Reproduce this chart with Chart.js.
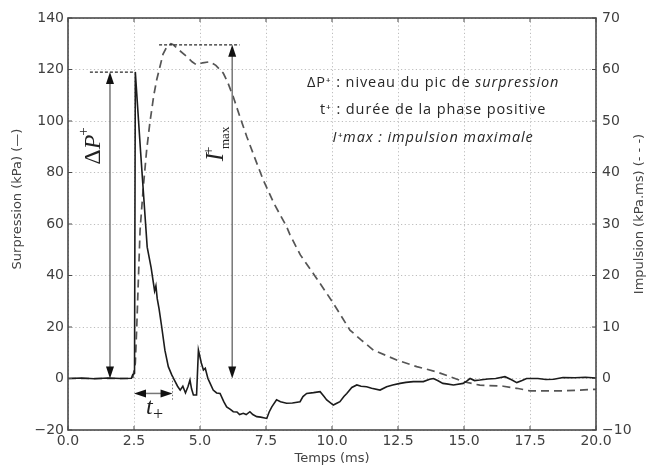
<!DOCTYPE html>
<html><head><meta charset="utf-8">
<script src="https://cdn.jsdelivr.net/npm/chart.js@4.4.0/dist/chart.umd.min.js"></script>
<style>html,body{margin:0;padding:0;background:#fff}#wrap{width:658px;height:466px;position:relative}</style>
</head><body><div id="wrap"><canvas id="c" width="658" height="466"></canvas></div>
<script>
// ---- data (time in ms, pressure in kPa, impulse in kPa.ms) ----
const timeP = [0,0.5,1,1.5,2,2.4,2.45,2.52,2.55,2.75,3.0,3.15,3.28,3.33,3.38,3.45,3.55,3.67,3.8,3.93,4.05,4.15,4.25,4.35,4.45,4.55,4.62,4.68,4.75,4.87,4.94,5.05,5.13,5.2,5.3,5.38,5.5,5.63,5.76,5.9,6.01,6.15,6.26,6.4,6.5,6.64,6.75,6.89,7.0,7.15,7.3,7.53,7.62,7.72,7.9,8.05,8.28,8.5,8.79,8.9,9.04,9.3,9.55,9.7,9.8,10.05,10.2,10.3,10.45,10.56,10.75,10.94,11.1,11.31,11.5,11.82,12.07,12.3,12.58,12.8,13.08,13.46,13.7,13.84,14.0,14.2,14.34,14.6,14.97,15.1,15.23,15.4,15.6,15.9,16.2,16.55,16.8,17.0,17.2,17.37,17.8,18.1,18.4,18.75,19.2,19.6,20];
const pressure = [0,0.2,-0.1,0.2,0,0.1,1.5,2,119,88,51,43,34,36,31,27,20,11,4.6,1.4,-1,-3,-4.5,-3,-5.6,-3,-0.6,-4,-6.4,-6.4,11,6,3.3,4,0,-1.8,-4.5,-5.6,-5.8,-9,-11,-12,-12.9,-13,-14,-13.5,-14,-12.9,-14,-14.8,-15,-15.5,-13,-11,-8.3,-9,-9.6,-9.5,-9,-7,-5.8,-5.5,-5.1,-7,-8.3,-10.3,-9.5,-9,-7,-5.8,-3.5,-2.5,-3,-3.2,-3.8,-4.5,-3.2,-2.5,-1.9,-1.5,-1.2,-1.2,-0.3,0,-0.8,-1.9,-2.1,-2.5,-1.9,-1,0,-0.8,-0.6,-0.2,0,0.7,-0.5,-1.6,-0.8,0,0,-0.4,-0.3,0.4,0.3,0.5,0.2];
const timeI = [0,2.45,2.55,2.6,2.73,2.85,2.98,3.1,3.25,3.36,3.48,3.6,3.74,3.9,3.99,4.2,4.5,4.7,4.87,5.1,5.38,5.6,5.88,6.05,6.26,6.5,6.77,7.1,7.4,7.8,8.28,8.41,8.8,9.29,9.7,10.05,10.68,11.1,11.57,12.45,13.21,13.96,14.47,14.97,15.6,16.49,17,17.5,18.75,20];
const impulse = [0,0,3,9.4,28.8,37,44.4,49.6,55,58,60.5,63,64.4,65,64.8,63.8,62.5,61.5,60.9,61.3,61.5,60.8,59.3,57.5,54.7,51,47,42.5,38.5,34,29.5,27.9,24,20.4,17.3,14.6,9.4,7.5,5.5,3.6,2.3,1.3,0.35,-0.6,-1.3,-1.5,-1.9,-2.4,-2.4,-2.1];
const xTicks = [0,2.5,5,7.5,10,12.5,15,17.5,20];
const yLeftTicks = [-20,0,20,40,60,80,100,120,140];
const yRightTicks = [-10,0,10,20,30,40,50,60,70];
const xTitle = 'Temps (ms)';
const yLeftTitle = 'Surpression (kPa) (\u2014)';
const yRightTitle = 'Impulsion (kPa.ms) (- - -)';
// annotation values (data units)
const dpPeak = 119;            // kPa
const dpArrowX = 1.59;         // ms
const dpLevelSpan = [0.83, 2.55];
const imaxPeak = 64.8;         // kPa.ms
const imaxArrowX = 6.22;       // ms
const imaxLevelSpan = [3.45, 6.5];
const tPlusSpan = [2.5, 3.96]; // ms
const tPlusLevel = -5.8;       // kPa
const legendLines = [
  [{t:'\u0394P\u207A : niveau du pic de ',i:false},{t:'surpression',i:true}],
  [{t:'t\u207A : dur\u00e9e de la phase positive',i:false}],
  [{t:'I\u207Amax : impulsion maximale',i:true}]
];
const legendPos = [[13.83,114.8],[13.83,104.3],[13.83,93.4]]; // ms, kPa

const fmtMinus = v => String(v).replace('-', '\u2212');
const legendFont = '14.5px "Open Sans", sans-serif';
const legendSpacing = '0.9px';

function drawPieces(ctx, x, y, pieces, rot){
  ctx.save();
  ctx.translate(x, y);
  if (rot) ctx.rotate(rot);
  let cx = pieces.startX || 0;
  for (const p of pieces.list){
    ctx.font = p.f;
    const w = ctx.measureText(p.t).width;
    ctx.fillText(p.t, cx + (p.dx||0), p.dy||0);
    cx += w + (p.dx||0);
  }
  ctx.restore();
}
function piecesWidth(ctx, list){
  let w=0; for(const p of list){ctx.font=p.f; w+=ctx.measureText(p.t).width+(p.dx||0);} return w;
}

const annot = {
  id:'annot',
  afterDatasetsDraw(chart){
    const {ctx, chartArea:a, scales:{x, y, y1}} = chart;
    const X=v=>x.getPixelForValue(v), Y=v=>y.getPixelForValue(v), Y1=v=>y1.getPixelForValue(v);
    const line=(x0,y0,x1,y1_)=>{ctx.beginPath();ctx.moveTo(x0,y0);ctx.lineTo(x1,y1_);ctx.stroke();};
    const head=(tx,ty,dx,dy)=>{
      const L=12, W=4;
      const bx=tx-dx*L, by=ty-dy*L;
      ctx.beginPath(); ctx.moveTo(tx,ty); ctx.lineTo(bx-dy*W, by+dx*W); ctx.lineTo(bx+dy*W, by-dx*W); ctx.closePath(); ctx.fill();
    };
    ctx.save();
    ctx.strokeStyle='#2a2a2a'; ctx.lineWidth=1.2; ctx.setLineDash([3,2]);
    line(X(dpLevelSpan[0]),Y(dpPeak),X(dpLevelSpan[1]),Y(dpPeak));
    line(X(imaxLevelSpan[0]),Y1(imaxPeak),X(imaxLevelSpan[1]),Y1(imaxPeak));
    ctx.strokeStyle='#777'; ctx.lineWidth=1; ctx.setLineDash([1.5,2]);
    line(X(tPlusSpan[1]),Y(0.5),X(tPlusSpan[1]),Y(-8.5));
    ctx.setLineDash([]); ctx.strokeStyle='#777'; ctx.lineWidth=1.5; ctx.fillStyle='#111';
    let xa=X(dpArrowX), ya0=Y(0), ya1=Y(dpPeak);
    line(xa,ya0-8,xa,ya1+8); head(xa,ya1,0,-1); head(xa,ya0,0,1);
    xa=X(imaxArrowX); ya1=Y1(imaxPeak);
    line(xa,ya0-8,xa,ya1+8); head(xa,ya1,0,-1); head(xa,ya0,0,1);
    const yt=Y(tPlusLevel), xt0=X(tPlusSpan[0]), xt1=X(tPlusSpan[1]);
    line(xt0+8,yt,xt1-8,yt); head(xt0,yt,-1,0); head(xt1,yt,1,0);
    ctx.fillStyle='#222'; ctx.textBaseline='alphabetic'; ctx.textAlign='left';
    const serif='"Liberation Serif", "DejaVu Serif", serif';
    let list=[{t:'\u0394',f:'24px '+serif},{t:'P',f:'italic 24px '+serif},{t:'+',f:'15px '+serif,dy:-12,dx:-1}];
    let w=piecesWidth(ctx,list);
    drawPieces(ctx, X(1.21), Y(90.3), {list, startX:-w/2}, -Math.PI/2);
    ctx.save();
    ctx.translate(X(5.58), Y(90.3)); ctx.rotate(-Math.PI/2);
    ctx.font='italic 25px '+serif; const wi=ctx.measureText('I').width;
    ctx.font='13px '+serif; const wm=ctx.measureText('max').width;
    const tot=wi+2+wm; let s=-tot/2+1;
    ctx.font='italic 25px '+serif; ctx.fillText('I', s, 8);
    ctx.font='15px '+serif; ctx.fillText('+', s+wi-2, -2);
    ctx.font='13px '+serif; ctx.fillText('max', s+wi+4, 14);
    ctx.restore();
    ctx.font='italic 24px '+serif; ctx.fillText('t', X(3.3)-9, Y(-13.8));
    ctx.font='18px '+serif; ctx.fillText('+', X(3.3)-2, Y(-16));
    // legend text block
    ctx.fillStyle='#262626'; ctx.textBaseline='middle';
    if ('letterSpacing' in ctx) ctx.letterSpacing = legendSpacing;
    legendLines.forEach((ln,k)=>{
      const parts=ln.map(p=>({t:p.t,f:(p.i?'italic ':'')+legendFont}));
      const ww=piecesWidth(ctx,parts);
      drawPieces(ctx, X(legendPos[k][0]), Y(legendPos[k][1]), {list:parts,startX:-ww/2}, 0);
    });
    ctx.restore();
  },
  afterDraw(chart){
    const {ctx, chartArea:a, scales:{x, y, y1}} = chart;
    ctx.save();
    ctx.strokeStyle='#4a4a4a'; ctx.lineWidth=1.6; ctx.setLineDash([]);
    ctx.strokeRect(a.left, a.top, a.right-a.left, a.bottom-a.top);
    ctx.lineWidth=1; ctx.strokeStyle='#4a4a4a';
    const L=4;
    xTicks.forEach(v=>{const px=x.getPixelForValue(v); ctx.beginPath(); ctx.moveTo(px,a.bottom); ctx.lineTo(px,a.bottom-L); ctx.moveTo(px,a.top); ctx.lineTo(px,a.top+L); ctx.stroke();});
    yLeftTicks.forEach(v=>{const py=y.getPixelForValue(v); ctx.beginPath(); ctx.moveTo(a.left,py); ctx.lineTo(a.left+L,py); ctx.stroke();});
    yRightTicks.forEach(v=>{const py=y1.getPixelForValue(v); ctx.beginPath(); ctx.moveTo(a.right,py); ctx.lineTo(a.right-L,py); ctx.stroke();});
    ctx.fillStyle='#444'; ctx.font='13px "DejaVu Sans", sans-serif'; ctx.textAlign='center'; ctx.textBaseline='middle';
    ctx.fillText(xTitle, (a.left+a.right)/2, 459);
    ctx.save(); ctx.translate(18, 199); ctx.rotate(-Math.PI/2); ctx.fillText(yLeftTitle,0,0); ctx.restore();
    ctx.save(); ctx.translate(640, 214); ctx.rotate(-Math.PI/2); ctx.fillText(yRightTitle,0,0); ctx.restore();
    ctx.restore();
  }
};

const tickFont = {family:'"DejaVu Sans", sans-serif', size:14};
const tickColor = '#3f3f3f';
const gridCommon = {color:'#bdbdbd', lineWidth:1, drawTicks:false};

new Chart(document.getElementById('c'), {
  type:'scatter',
  data:{datasets:[
    {label:'Surpression', data: timeP.map((t,i)=>({x:t,y:pressure[i]})), yAxisID:'y', showLine:true, pointRadius:0, borderColor:'#1c1c1c', borderWidth:1.6, tension:0},
    {label:'Impulsion', data: timeI.map((t,i)=>({x:t,y:impulse[i]})), yAxisID:'y1', showLine:true, pointRadius:0, borderColor:'#555', borderWidth:1.7, borderDash:[8,5], tension:0}
  ]},
  options:{
    responsive:false, animation:false, devicePixelRatio:1,
    layout:{padding:{top:18,left:0,right:0,bottom:0}},
    plugins:{legend:{display:false}, tooltip:{enabled:false}},
    scales:{
      x:{type:'linear', min:0, max:20, position:'bottom',
        afterBuildTicks:s=>{s.ticks=xTicks.map(v=>({value:v}));},
        afterFit:s=>{s.height=36;},
        ticks:{font:tickFont, color:tickColor, padding:3, maxRotation:0, autoSkip:false, callback:v=>Number(v).toFixed(1)},
        grid:gridCommon, border:{display:false, dash:[1.2,2.5]}},
      y:{type:'linear', min:-20, max:140, position:'left',
        afterBuildTicks:s=>{s.ticks=yLeftTicks.map(v=>({value:v}));},
        afterFit:s=>{s.width=68;},
        ticks:{font:tickFont, color:tickColor, padding:4, autoSkip:false, callback:v=>fmtMinus(v)},
        grid:gridCommon, border:{display:false, dash:[1.2,2.5]}},
      y1:{type:'linear', min:-10, max:70, position:'right',
        afterBuildTicks:s=>{s.ticks=yRightTicks.map(v=>({value:v}));},
        afterFit:s=>{s.width=62;},
        ticks:{font:tickFont, color:tickColor, padding:6, autoSkip:false, callback:v=>fmtMinus(v)},
        grid:{drawOnChartArea:false, drawTicks:false}, border:{display:false}}
    }
  },
  plugins:[annot]
});
</script>
</body></html>
